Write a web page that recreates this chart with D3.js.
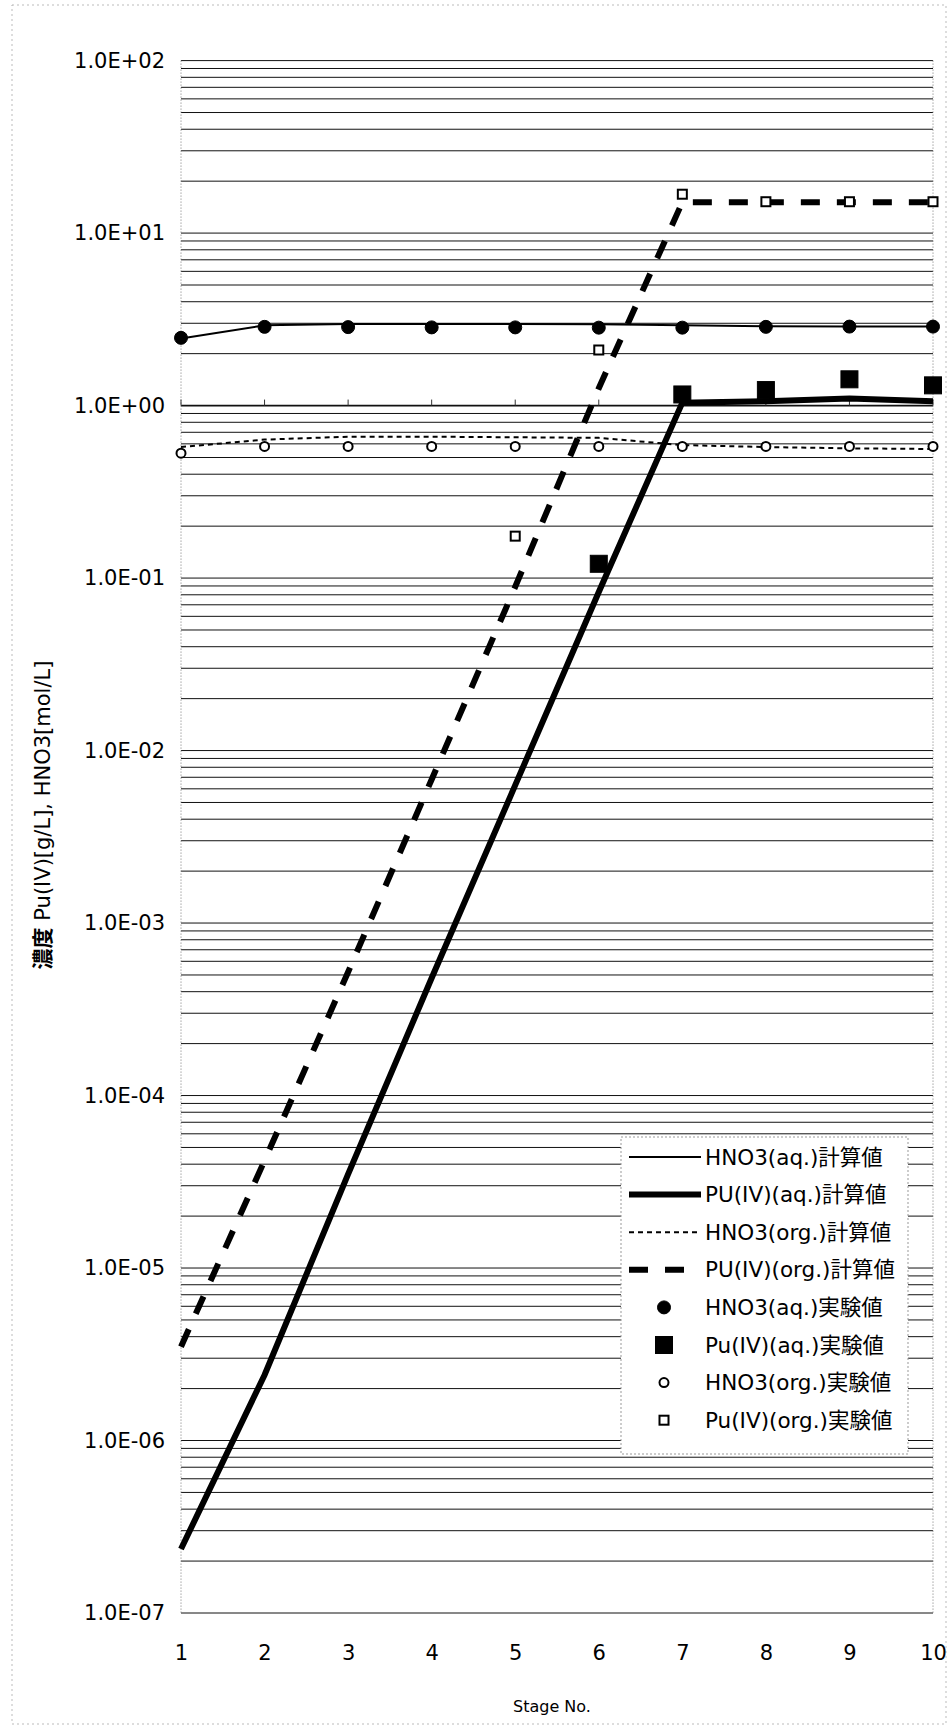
<!DOCTYPE html>
<html>
<head>
<meta charset="utf-8">
<script src="https://cdn.jsdelivr.net/npm/d3@7"></script>
<style>
  body { margin: 0; background: #fff; }
  svg { display: block; font-family: "DejaVu Sans", "Noto Sans CJK JP", sans-serif; }
</style>
</head>
<body>
<div id="chart"></div>
<script>
// stage numbers on the x axis
const stages = [1, 2, 3, 4, 5, 6, 7, 8, 9, 10];

// calculated values (lines)
const hno3AqCalc = [2.45, 2.92, 2.97, 2.97, 2.97, 2.96, 2.92, 2.88, 2.87, 2.87];
const puAqCalc = [2.35e-7, 2.4e-6, 3.5e-5, 4.8e-4, 6.3e-3, 8.3e-2, 1.04, 1.06, 1.10, 1.06];
const hno3OrgCalc = [0.575, 0.635, 0.66, 0.66, 0.655, 0.65, 0.59, 0.575, 0.565, 0.56];
const puOrgCalc = [3.5e-6, 4.2e-5, 5.2e-4, 6.8e-3, 8.9e-2, 1.26, 15.1, 15.1, 15.1, 15.1];

// experimental values (markers), null = not measured
const hno3AqExp = [2.47, 2.86, 2.85, 2.84, 2.84, 2.83, 2.83, 2.86, 2.87, 2.87];
const puAqExp = [null, null, null, null, null, 0.121, 1.16, 1.23, 1.42, 1.31];
const hno3OrgExp = [0.53, 0.58, 0.58, 0.58, 0.58, 0.58, 0.58, 0.58, 0.58, 0.58];
const puOrgExp = [null, null, null, null, 0.175, 2.1, 16.8, 15.2, 15.2, 15.2];

// y axis decades
const decades = [-7, -6, -5, -4, -3, -2, -1, 0, 1, 2];

const width = 950, height = 1729;
const margin = { top: 60.6, right: 17, bottom: 116, left: 181 };

const svg = d3.select("#chart").append("svg")
  .attr("width", width)
  .attr("height", height);

const x = d3.scaleLinear()
  .domain([1, 10])
  .range([margin.left, width - margin.right]);

const y = d3.scaleLog()
  .domain([1e-7, 1e2])
  .range([height - margin.bottom, margin.top]);

// faint outer border of the chart area
svg.append("rect")
  .attr("x", 12).attr("y", 5)
  .attr("width", width - 16).attr("height", height - 10)
  .attr("fill", "none")
  .attr("stroke", "#bbb")
  .attr("stroke-dasharray", "2,3");

// horizontal gridlines: every 1..9 x 10^n
const gridValues = [];
decades.slice(0, -1).forEach(e => {
  for (let k = 1; k <= 9; k++) gridValues.push(k * Math.pow(10, e));
});
gridValues.push(100);

svg.append("g")
  .selectAll("line")
  .data(gridValues)
  .join("line")
  .attr("x1", x(1)).attr("x2", x(10))
  .attr("y1", d => y(d)).attr("y2", d => y(d))
  .attr("stroke", "#111")
  .attr("stroke-width", d => d === 1 ? 1.6 : 1);

// left / right plot edges (dotted)
svg.append("g")
  .selectAll("line")
  .data([1, 10])
  .join("line")
  .attr("x1", d => x(d)).attr("x2", d => x(d))
  .attr("y1", y(100)).attr("y2", y(1e-7))
  .attr("stroke", "#777")
  .attr("stroke-dasharray", "1,2");

// category axis crosses at 1.0 with small tick marks
svg.append("g")
  .selectAll("line")
  .data(stages)
  .join("line")
  .attr("x1", d => x(d)).attr("x2", d => x(d))
  .attr("y1", y(1)).attr("y2", y(1) - 6)
  .attr("stroke", "#333");

// y axis labels
const fmt = d => {
  const e = Math.round(Math.log10(d));
  return "1.0E" + (e < 0 ? "-" : "+") + String(Math.abs(e)).padStart(2, "0");
};
const yAxis = svg.append("g")
  .attr("transform", `translate(${margin.left - 16},0)`)
  .call(d3.axisLeft(y).tickValues(decades.map(e => Math.pow(10, e))).tickFormat(fmt).tickSize(0).tickPadding(0));
yAxis.select(".domain").remove();
yAxis.selectAll("text")
  .attr("font-size", 21)
  .attr("font-family", "DejaVu Sans")
  .attr("fill", "#000");

// x axis labels
const xAxis = svg.append("g")
  .attr("transform", `translate(0,${y(1e-7) + 32})`)
  .call(d3.axisBottom(x).tickValues(stages).tickFormat(d3.format("d")).tickSize(0).tickPadding(0));
xAxis.select(".domain").remove();
xAxis.selectAll("text")
  .attr("font-size", 21)
  .attr("font-family", "DejaVu Sans")
  .attr("fill", "#000");

// axis titles
svg.append("text")
  .attr("x", 552).attr("y", 1712)
  .attr("text-anchor", "middle")
  .attr("font-size", 16)
  .text("Stage No.");

const yTitle = svg.append("text")
  .attr("transform", "translate(50,815) rotate(-90)")
  .attr("text-anchor", "middle")
  .attr("font-size", 21);
yTitle.append("tspan").attr("font-weight", "bold").text("濃度");
yTitle.append("tspan").text(" Pu(IV)[g/L], HNO3[mol/L]");

// series definitions
const lineSeries = [
  { name: "HNO3(aq.)計算値", values: hno3AqCalc, width: 2, dash: null },
  { name: "PU(IV)(aq.)計算値", values: puAqCalc, width: 6, dash: null },
  { name: "HNO3(org.)計算値", values: hno3OrgCalc, width: 2, dash: "5,4" },
  { name: "PU(IV)(org.)計算値", values: puOrgCalc, width: 6, dash: "19,17" }
];
const markerSeries = [
  { name: "HNO3(aq.)実験値", values: hno3AqExp, shape: "circle", size: 6.5, fill: "#000" },
  { name: "Pu(IV)(aq.)実験値", values: puAqExp, shape: "square", size: 17, fill: "#000" },
  { name: "HNO3(org.)実験値", values: hno3OrgExp, shape: "circle", size: 4.5, fill: "#fff" },
  { name: "Pu(IV)(org.)実験値", values: puOrgExp, shape: "square", size: 9, fill: "#fff" }
];

const line = d3.line()
  .defined(d => d[1] != null)
  .x(d => x(d[0]))
  .y(d => y(d[1]));

svg.append("g")
  .selectAll("path")
  .data(lineSeries)
  .join("path")
  .attr("d", s => line(stages.map((st, i) => [st, s.values[i]])))
  .attr("fill", "none")
  .attr("stroke", "#000")
  .attr("stroke-width", s => s.width)
  .attr("stroke-dasharray", s => s.dash);

function drawMarker(g, s) {
  if (s.shape === "circle") {
    g.append("circle").attr("r", s.size)
      .attr("fill", s.fill).attr("stroke", "#000").attr("stroke-width", s.fill === "#fff" ? 2 : 1);
  } else {
    g.append("rect")
      .attr("x", -s.size / 2).attr("y", -s.size / 2)
      .attr("width", s.size).attr("height", s.size)
      .attr("fill", s.fill).attr("stroke", "#000").attr("stroke-width", s.fill === "#fff" ? 2 : 1);
  }
}

markerSeries.forEach(s => {
  const pts = stages.map((st, i) => [st, s.values[i]]).filter(d => d[1] != null);
  svg.append("g")
    .selectAll("g")
    .data(pts)
    .join("g")
    .attr("transform", d => `translate(${x(d[0])},${y(d[1])})`)
    .each(function () { drawMarker(d3.select(this), s); });
});

// legend
const legend = svg.append("g").attr("transform", "translate(621,1137)");
legend.append("rect")
  .attr("width", 287).attr("height", 317)
  .attr("fill", "#fff")
  .attr("stroke", "#999")
  .attr("stroke-dasharray", "2,2");

const rowH = 37.6;
lineSeries.forEach((s, i) => {
  const cy = 20 + i * rowH;
  legend.append("line")
    .attr("x1", 8).attr("x2", 80)
    .attr("y1", cy).attr("y2", cy)
    .attr("stroke", "#000")
    .attr("stroke-width", s.width)
    .attr("stroke-dasharray", s.dash);
  legend.append("text")
    .attr("x", 84).attr("y", cy).attr("dy", "0.35em")
    .attr("font-size", 21.5)
    .text(s.name);
});
markerSeries.forEach((s, i) => {
  const cy = 20 + (i + 4) * rowH;
  const g = legend.append("g").attr("transform", `translate(43,${cy})`);
  drawMarker(g, s);
  legend.append("text")
    .attr("x", 84).attr("y", cy).attr("dy", "0.35em")
    .attr("font-size", 21.5)
    .text(s.name);
});
</script>
</body>
</html>
